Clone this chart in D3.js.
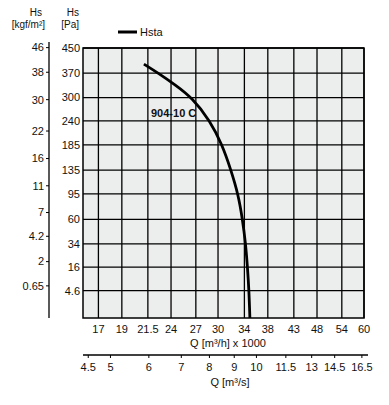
<!DOCTYPE html>
<html>
<head>
<meta charset="utf-8">
<script src="https://cdn.jsdelivr.net/npm/d3@7"></script>
<style>
  body { margin: 0; background: #fff; }
  svg text { font-family: "Liberation Sans Narrow", "Liberation Sans", Arial, sans-serif; font-size: 11px; fill: #111; }
  svg text.hdr { font-size: 10px; }
</style>
</head>
<body>
<svg id="chart" width="389" height="405"></svg>
<script>
// curve data, Q in m3/h x 1000, Hs in Pa
const flow     = [21.1, 22.6, 24.5, 26.5, 28.9, 30.6, 31.9, 33.0, 33.7, 34.2, 34.5, 34.75, 34.9];
const pressure = [398,  370,  335,  300,  240,  185,  135,  95,   60,   34,   16,   4.6,   0];

const qTicks   = [17, 19, 21.5, 24, 27, 30, 34, 38, 43, 48, 54, 60];
const qsTicks  = [4.5, 5, 6, 7, 8, 9, 10, 11.5, 13, 14.5, 16.5];
const paTicks  = [450, 370, 300, 240, 185, 135, 95, 60, 34, 16, 4.6];
const kgfTicks = [46, 38, 30, 22, 16, 11, 7, 4.2, 2, 0.65];

const LEFT = 83, RIGHT = 364, TOP = 48, BOTTOM = 318,
      KGF_X = 49, GRID = '#000', BG = '#eceeed';

const svg = d3.select('#chart');

const x = d3.scaleLog().domain([15.8, 60]).range([LEFT, RIGHT]);
const y = d3.scaleSqrt().domain([0, 450]).range([BOTTOM, TOP]);

// plot background
svg.append('rect')
    .attr('x', LEFT).attr('y', TOP)
    .attr('width', RIGHT - LEFT).attr('height', BOTTOM - TOP)
    .attr('fill', BG);

// grid
svg.append('g').selectAll('line')
    .data(qTicks)
    .enter().append('line')
    .attr('x1', d => x(d)).attr('x2', d => x(d))
    .attr('y1', TOP).attr('y2', BOTTOM)
    .style('stroke', GRID).style('stroke-width', 1.3);

svg.append('g').selectAll('line')
    .data(paTicks)
    .enter().append('line')
    .attr('x1', LEFT).attr('x2', RIGHT)
    .attr('y1', d => y(d)).attr('y2', d => y(d))
    .style('stroke', GRID).style('stroke-width', 1.3);

svg.append('rect')
    .attr('x', LEFT).attr('y', TOP)
    .attr('width', RIGHT - LEFT).attr('height', BOTTOM - TOP)
    .attr('fill', 'none').style('stroke', GRID).style('stroke-width', 1.5);

// Pa labels
svg.append('g').selectAll('text')
    .data(paTicks)
    .enter().append('text')
    .attr('x', LEFT - 3).attr('y', d => y(d))
    .attr('dy', '0.35em').attr('text-anchor', 'end')
    .text(d => d);

// kgf/m2 axis
const kgf = v => y(v * 9.81);
svg.append('line')
    .attr('x1', KGF_X).attr('x2', KGF_X).attr('y1', 42).attr('y2', BOTTOM)
    .style('stroke', '#000').style('stroke-width', 1.3);
svg.append('g').selectAll('line')
    .data(kgfTicks)
    .enter().append('line')
    .attr('x1', KGF_X - 3).attr('x2', KGF_X)
    .attr('y1', d => kgf(d)).attr('y2', d => kgf(d))
    .style('stroke', '#000').style('stroke-width', 1);
svg.append('g').selectAll('text')
    .data(kgfTicks)
    .enter().append('text')
    .attr('x', KGF_X - 5).attr('y', d => kgf(d))
    .attr('dy', '0.35em').attr('text-anchor', 'end')
    .text(d => d);

// headers
svg.append('text').attr('class', 'hdr').attr('x', 42).attr('y', 16).attr('text-anchor', 'end').text('Hs');
svg.append('text').attr('class', 'hdr').attr('x', 45).attr('y', 28).attr('text-anchor', 'end').text('[kgf/m²]');
svg.append('text').attr('class', 'hdr').attr('x', 79).attr('y', 16).attr('text-anchor', 'end').text('Hs');
svg.append('text').attr('class', 'hdr').attr('x', 79).attr('y', 28).attr('text-anchor', 'end').text('[Pa]');

// Q m3/h labels
svg.append('g').selectAll('text')
    .data(qTicks)
    .enter().append('text')
    .attr('x', d => x(d)).attr('y', 333)
    .attr('text-anchor', 'middle')
    .text(d => d);
svg.append('text').attr('x', 228).attr('y', 347).attr('text-anchor', 'middle').text('Q [m³/h] x 1000');

// Q m3/s axis
const xs = v => x(v * 3.6);
svg.append('line')
    .attr('x1', 83).attr('x2', 368).attr('y1', 355).attr('y2', 355)
    .style('stroke', '#000').style('stroke-width', 1.3);
svg.append('g').selectAll('line')
    .data(qsTicks)
    .enter().append('line')
    .attr('x1', d => xs(d)).attr('x2', d => xs(d))
    .attr('y1', 355).attr('y2', 358)
    .style('stroke', '#000').style('stroke-width', 1);
svg.append('g').selectAll('text')
    .data(qsTicks)
    .enter().append('text')
    .attr('x', d => xs(d)).attr('y', 371)
    .attr('text-anchor', 'middle')
    .text(d => d);
svg.append('text').attr('x', 230).attr('y', 386).attr('text-anchor', 'middle').text('Q [m³/s]');

// curve
const line = d3.line()
    .x(d => x(d[0]))
    .y(d => y(d[1]))
    .curve(d3.curveBasis);

svg.append('path')
    .datum(flow.map((f, i) => [f, pressure[i]]))
    .attr('d', line)
    .attr('fill', 'none')
    .style('stroke', '#000').style('stroke-width', 2.8);

svg.append('text')
    .attr('x', 151).attr('y', 117)
    .style('font-weight', 'bold')
    .text('904-10 C');

// legend
svg.append('line')
    .attr('x1', 118).attr('x2', 137).attr('y1', 32).attr('y2', 32)
    .style('stroke', '#000').style('stroke-width', 3);
svg.append('text').attr('x', 140).attr('y', 36).text('Hsta');
</script>
</body>
</html>
